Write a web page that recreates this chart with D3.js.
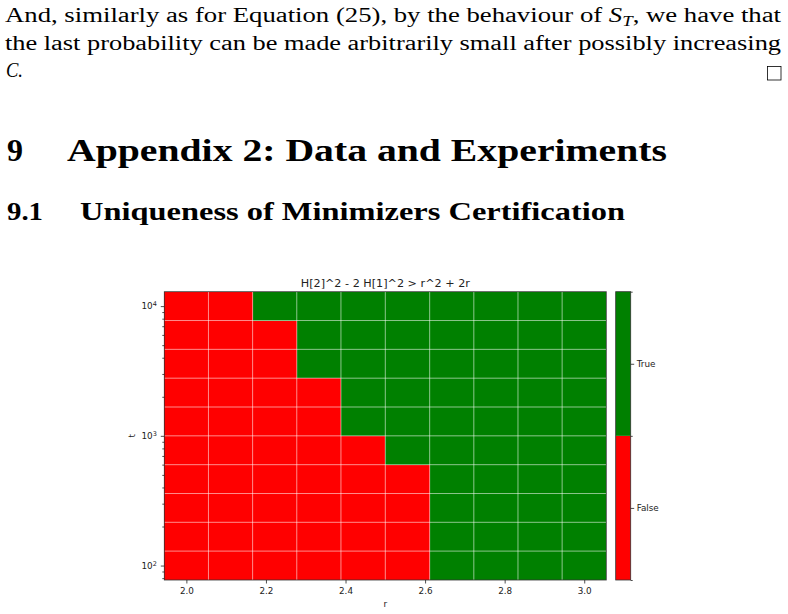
<!DOCTYPE html>
<html>
<head>
<meta charset="utf-8">
<script src="https://cdn.jsdelivr.net/npm/d3@7"></script>
<style>
  body { margin: 0; background: #fff; }
  .body-text { font-family: "Liberation Serif", serif; font-size: 20px; fill: #000; }
  .heading { font-family: "Liberation Serif", serif; font-weight: bold; fill: #000; }
  .mpl text { font-family: "DejaVu Sans", sans-serif; font-size: 8.8px; fill: #222; }
  .mpl .domain { display: none; }
  .mpl .tick line { stroke: #222; stroke-width: 0.8; }
</style>
</head>
<body>
<div id="page"></div>
<script>
// 0: DATA
// r values along x (cell centres)
const rValues = [2.0, 2.111, 2.222, 2.333, 2.444, 2.556, 2.667, 2.778, 2.889, 3.0];
// t values along y (cell centres, log spaced)
const tValues = [100, 167, 278, 464, 774, 1292, 2154, 3594, 5995, 10000];
// 1 = True, 0 = False. one row per t (ascending), one column per r
const isTrue = [
  [0, 0, 0, 0, 0, 0, 1, 1, 1, 1],
  [0, 0, 0, 0, 0, 0, 1, 1, 1, 1],
  [0, 0, 0, 0, 0, 0, 1, 1, 1, 1],
  [0, 0, 0, 0, 0, 0, 1, 1, 1, 1],
  [0, 0, 0, 0, 0, 1, 1, 1, 1, 1],
  [0, 0, 0, 0, 1, 1, 1, 1, 1, 1],
  [0, 0, 0, 0, 1, 1, 1, 1, 1, 1],
  [0, 0, 0, 1, 1, 1, 1, 1, 1, 1],
  [0, 0, 0, 1, 1, 1, 1, 1, 1, 1],
  [0, 0, 1, 1, 1, 1, 1, 1, 1, 1]
];
const classLabels = ["False", "True"];
const classColors = ["#ff0000", "#008000"];
const xTickValues = [2.0, 2.2, 2.4, 2.6, 2.8, 3.0];
const yTickValues = [100, 1000, 10000];
const yTickExponents = ["2", "3", "4"];
const chartTitle = "H[2]^2 - 2 H[1]^2 > r^2 + 2r";

// 1: CREATE BLANK SVG
const svg = d3.select("#page")
    .append("svg")
    .attr("width", 788)
    .attr("height", 614);

// 2: PAPER TEXT ABOVE THE FIGURE
// glyphs stretched a little to get the width of the LaTeX roman font
const line1 = svg.append("text")
    .attr("class", "body-text")
    .attr("x", 5).attr("y", 22)
    .attr("textLength", 776).attr("lengthAdjust", "spacingAndGlyphs");
line1.append("tspan").text("And, similarly as for Equation (25), by the behaviour of ");
line1.append("tspan").attr("font-style", "italic").text("S");
line1.append("tspan").attr("font-style", "italic").attr("font-size", "14px").attr("dy", 4).text("T");
line1.append("tspan").attr("dy", -4).text(", we have that");

svg.append("text")
    .attr("class", "body-text")
    .attr("x", 5).attr("y", 49.5)
    .attr("textLength", 776).attr("lengthAdjust", "spacingAndGlyphs")
    .text("the last probability can be made arbitrarily small after possibly increasing");

svg.append("text")
    .attr("class", "body-text")
    .attr("x", 6).attr("y", 77)
    .attr("font-style", "italic")
    .attr("textLength", 17).attr("lengthAdjust", "spacingAndGlyphs")
    .text("C.");

// end-of-proof box
svg.append("rect")
    .attr("x", 767.5).attr("y", 66.5)
    .attr("width", 13.5).attr("height", 13.5)
    .attr("fill", "none").attr("stroke", "#000").attr("stroke-width", 0.8);

// section headings
svg.append("text").attr("class", "heading")
    .attr("x", 7).attr("y", 161).attr("font-size", "31px")
    .attr("textLength", 16).attr("lengthAdjust", "spacingAndGlyphs").text("9");
svg.append("text").attr("class", "heading")
    .attr("x", 67).attr("y", 161).attr("font-size", "31px")
    .attr("textLength", 600).attr("lengthAdjust", "spacingAndGlyphs")
    .text("Appendix 2: Data and Experiments");
svg.append("text").attr("class", "heading")
    .attr("x", 7).attr("y", 220).attr("font-size", "26px")
    .attr("textLength", 36).attr("lengthAdjust", "spacingAndGlyphs").text("9.1");
svg.append("text").attr("class", "heading")
    .attr("x", 80).attr("y", 220).attr("font-size", "26px")
    .attr("textLength", 545).attr("lengthAdjust", "spacingAndGlyphs")
    .text("Uniqueness of Minimizers Certification");

// 3: HEATMAP
const plot = { left: 164.3, top: 291.7, width: 442, height: 288.3 };
const chart = svg.append("g")
    .attr("class", "mpl")
    .attr("transform", `translate(${plot.left},${plot.top})`);

// cell edges from the centres (linear for r, geometric for t)
const rEdges = [rValues[0] - (rValues[1] - rValues[0]) / 2];
for (let i = 1; i < rValues.length; i++) rEdges.push((rValues[i - 1] + rValues[i]) / 2);
rEdges.push(rValues[rValues.length - 1] + (rValues[rValues.length - 1] - rValues[rValues.length - 2]) / 2);

const tEdges = [tValues[0] / Math.sqrt(tValues[1] / tValues[0])];
for (let i = 1; i < tValues.length; i++) tEdges.push(Math.sqrt(tValues[i - 1] * tValues[i]));
const n = tValues.length;
tEdges.push(tValues[n - 1] * Math.sqrt(tValues[n - 1] / tValues[n - 2]));

const x = d3.scaleLinear()
    .domain([rEdges[0], rEdges[rEdges.length - 1]])
    .range([0, plot.width]);
const y = d3.scaleLog()
    .domain([tEdges[0], tEdges[tEdges.length - 1]])
    .range([plot.height, 0]);

const cells = [];
isTrue.forEach((row, ti) => row.forEach((v, ri) => cells.push({ ri, ti, v })));

chart.selectAll("rect.cell")
    .data(cells)
    .enter()
    .append("rect")
    .attr("class", "cell")
    .attr("x", d => x(rEdges[d.ri]))
    .attr("y", d => y(tEdges[d.ti + 1]))
    .attr("width", d => x(rEdges[d.ri + 1]) - x(rEdges[d.ri]))
    .attr("height", d => y(tEdges[d.ti]) - y(tEdges[d.ti + 1]))
    .attr("fill", d => classColors[d.v])
    .attr("shape-rendering", "crispEdges");

// grid on the cell boundaries
chart.selectAll("line.vgrid")
    .data(rEdges.slice(1, -1))
    .enter().append("line")
    .attr("x1", d => x(d)).attr("x2", d => x(d))
    .attr("y1", 0).attr("y2", plot.height)
    .attr("stroke", "#fff").attr("stroke-opacity", 0.55).attr("stroke-width", 1);
chart.selectAll("line.hgrid")
    .data(tEdges.slice(1, -1))
    .enter().append("line")
    .attr("x1", 0).attr("x2", plot.width)
    .attr("y1", d => y(d)).attr("y2", d => y(d))
    .attr("stroke", "#fff").attr("stroke-opacity", 0.55).attr("stroke-width", 1);

// frame
chart.append("rect")
    .attr("width", plot.width).attr("height", plot.height)
    .attr("fill", "none").attr("stroke", "#333").attr("stroke-width", 0.8);

// 4: AXES
chart.append("g")
    .attr("transform", `translate(0,${plot.height})`)
    .call(d3.axisBottom(x).tickValues(xTickValues).tickFormat(d3.format(".1f"))
        .tickSize(3.5).tickSizeOuter(0).tickPadding(4));

const yMinor = y.ticks().filter(v => !yTickValues.includes(v));
chart.append("g")
    .call(d3.axisLeft(y).tickValues(yMinor).tickFormat("").tickSize(2).tickSizeOuter(0));

const yAxis = chart.append("g")
    .call(d3.axisLeft(y).tickValues(yTickValues).tickFormat("")
        .tickSize(3.5).tickSizeOuter(0).tickPadding(4));
yAxis.selectAll(".tick text").each(function(d, i) {
    const t = d3.select(this).attr("dy", "0.32em");
    t.append("tspan").text("10");
    t.append("tspan").attr("dy", "-0.5em").style("font-size", "6.5px").text(yTickExponents[i]);
});

// 5: LABELS
chart.append("text")
    .attr("x", plot.width / 2).attr("y", -5)
    .attr("text-anchor", "middle")
    .style("font-size", "11.2px")
    .text(chartTitle);

chart.append("text")
    .attr("x", plot.width / 2).attr("y", plot.height + 27)
    .attr("text-anchor", "middle")
    .text("r");

chart.append("text")
    .attr("transform", `translate(${134.5 - plot.left},${plot.height / 2}) rotate(-90)`)
    .attr("text-anchor", "middle")
    .text("t");

// 6: COLORBAR
const cbar = { left: 615.7, width: 15 };
const cb = svg.append("g")
    .attr("class", "mpl")
    .attr("transform", `translate(${cbar.left},${plot.top})`);
const cbScale = d3.scaleLinear().domain([0, 1]).range([plot.height, 0]);

cb.selectAll("rect.band")
    .data(classLabels)
    .enter().append("rect")
    .attr("x", 0)
    .attr("y", (d, i) => cbScale((i + 1) / classLabels.length))
    .attr("width", cbar.width)
    .attr("height", (d, i) => cbScale(i / classLabels.length) - cbScale((i + 1) / classLabels.length))
    .attr("fill", (d, i) => classColors[i]);

cb.append("rect")
    .attr("width", cbar.width).attr("height", plot.height)
    .attr("fill", "none").attr("stroke", "#333").attr("stroke-width", 0.8);

cb.append("g")
    .attr("transform", `translate(${cbar.width},0)`)
    .call(d3.axisRight(cbScale).tickValues([0, 0.5, 1]).tickFormat("").tickSize(2).tickSizeOuter(0));
cb.append("g")
    .attr("transform", `translate(${cbar.width},0)`)
    .call(d3.axisRight(cbScale).tickValues([0.25, 0.75]).tickFormat((d, i) => classLabels[i])
        .tickSize(3.5).tickSizeOuter(0).tickPadding(2.5));
</script>
</body>
</html>
